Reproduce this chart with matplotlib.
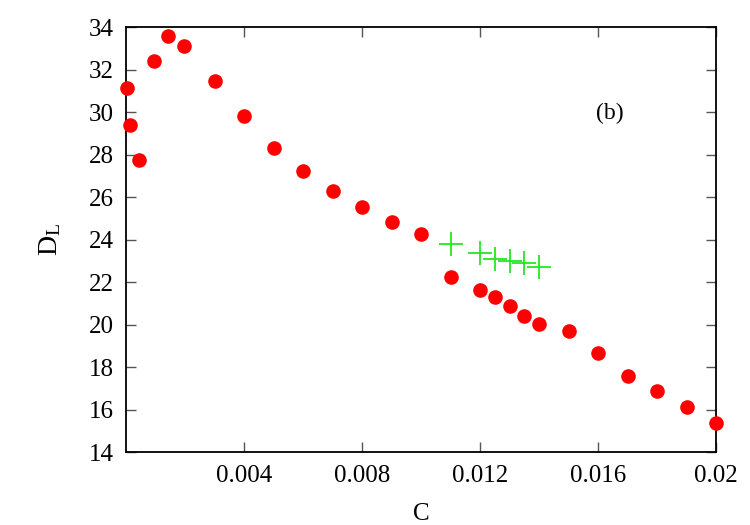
import matplotlib
matplotlib.use('Agg')
from matplotlib import pyplot as plt

plt.rcParams['font.family'] = ['Liberation Serif', 'DejaVu Serif']
plt.rcParams['mathtext.fontset'] = 'custom'
plt.rcParams['mathtext.rm'] = 'Liberation Serif'

# red circles
c_red = [0.00002, 0.00013, 0.00044, 0.00095, 0.00143, 0.00196, 0.003, 0.004,
         0.005, 0.006, 0.007, 0.008, 0.009, 0.010, 0.011, 0.012, 0.0125,
         0.013, 0.0135, 0.014, 0.015, 0.016, 0.017, 0.018, 0.019, 0.020]
d_red = [31.14, 29.42, 27.74, 32.39, 33.59, 33.14, 31.46, 29.81,
         28.31, 27.22, 26.28, 25.53, 24.82, 24.26, 22.22, 21.62, 21.29,
         20.87, 20.42, 20.02, 19.69, 18.66, 17.58, 16.88, 16.10, 15.36]

# green crosses
c_green = [0.011, 0.012, 0.0125, 0.013, 0.0135, 0.014]
d_green = [23.79, 23.38, 23.08, 23.00, 22.88, 22.72]

xticks = [0.004, 0.008, 0.012, 0.016, 0.02]
xticklabels = ['0.004', '0.008', '0.012', '0.016', '0.02']
yticks = list(range(14, 35, 2))

fig = plt.figure(figsize=(7.5, 5.25), dpi=100)
ax = fig.add_axes([0.168, 0.139, 0.787, 0.809])

ax.plot(c_red, d_red, 'o', color='#ff0000', markersize=10.5, markeredgewidth=0,
        clip_on=False, zorder=3)
ax.plot(c_green, d_green, '+', color='#22e822', markersize=17, markeredgewidth=1.3,
        clip_on=False, zorder=3)

ax.set_xlim(0, 0.02)
ax.set_ylim(14, 34)
ax.set_xticks(xticks)
ax.set_xticklabels(xticklabels)
ax.set_yticks(yticks)
ax.tick_params(direction='in', top=True, right=True, length=7, width=1,
               color='#555555', labelsize=18, pad=9)
for s in ax.spines.values():
    s.set_linewidth(1.3)

ax.set_xlabel('C', fontsize=18, labelpad=12)
ax.set_ylabel(r'$\mathrm{D_L}$', fontsize=20, labelpad=18)
ax.text(0.01638, 29.95, '(b)', fontsize=17, ha='center', va='center')

fig.savefig('out.png', dpi=100)
